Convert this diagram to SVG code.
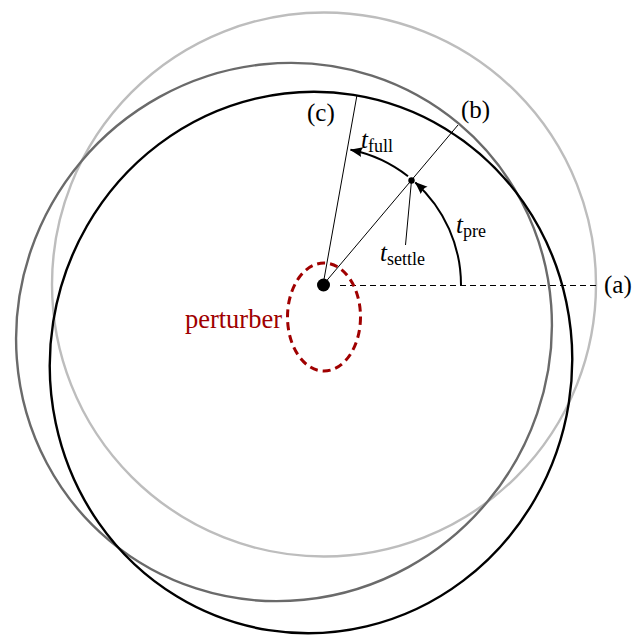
<svg xmlns="http://www.w3.org/2000/svg" width="639" height="635" viewBox="0 0 639 635">
<defs>
<style>
.orbit{fill:none;stroke-width:2.4}
.thin{stroke:#000;stroke-width:1;fill:none}
.arc{stroke:#000;stroke-width:2;fill:none;marker-end:url(#arr)}
.lbl{font-family:"Liberation Serif","Times New Roman",serif;font-size:25px;fill:#000}
.it{font-style:italic}
.sub{font-size:18px}
</style>
<marker id="arr" markerUnits="userSpaceOnUse" markerWidth="16" markerHeight="14" refX="12" refY="5" orient="auto">
<path d="M0,0 L12.5,5 L0,10 Q3,5 0,0 Z" fill="#000"/>
</marker>
</defs>
<rect width="639" height="635" fill="#fff"/>
<g id="orbits">
<circle id="orbit-a" class="orbit" cx="324" cy="284.5" r="272" stroke="#bdbdbd"/>
<ellipse id="orbit-b" class="orbit" cx="284" cy="332" rx="272" ry="265" transform="rotate(-50 284 332)" stroke="#6a6a6a"/>
<ellipse id="orbit-c" class="orbit" cx="311" cy="362.5" rx="271" ry="261" transform="rotate(-81 311 362.5)" stroke="#000"/>
</g>
<g id="connectors">
<line class="thin" x1="340" y1="285.5" x2="598" y2="285.5" stroke-dasharray="6,4"/>
<line class="thin" x1="323" y1="285" x2="357" y2="95"/>
<line class="thin" x1="323" y1="285" x2="458" y2="125"/>
<line class="thin" x1="411.5" y1="180.5" x2="405.5" y2="245"/>
<path id="t-pre-arc" class="arc" d="M461,285 A138,138 0 0 0 415.3,182.4"/>
<path id="t-full-arc" class="arc" d="M408,176.3 A138,138 0 0 0 350.5,149.8"/>
</g>
<g id="perturber">
<ellipse cx="324" cy="317" rx="36.5" ry="54" fill="none" stroke="#a00000" stroke-width="3" stroke-dasharray="8,5"/>
<text x="282" y="328" text-anchor="end" class="lbl" style="fill:#a00000;font-size:26.5px">perturber</text>
</g>
<g id="center">
<circle cx="323.5" cy="285" r="6.5" fill="#000"/>
</g>
<g id="settle-point">
<circle cx="411.5" cy="180.5" r="3.2" fill="#000"/>
</g>
<g id="labels">
<text class="lbl" x="307" y="121">(c)</text>
<text class="lbl" x="461" y="118">(b)</text>
<text class="lbl" x="604" y="293">(a)</text>
<text class="lbl" x="361" y="148"><tspan class="it">t</tspan><tspan class="sub" dy="4">full</tspan></text>
<text class="lbl" x="456" y="233"><tspan class="it">t</tspan><tspan class="sub" dy="4">pre</tspan></text>
<text class="lbl" x="380" y="261"><tspan class="it">t</tspan><tspan class="sub" dy="4">settle</tspan></text>
</g>
</svg>
